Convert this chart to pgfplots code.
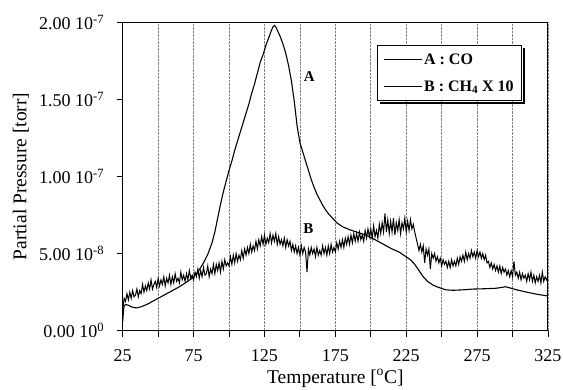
\documentclass[border=0pt]{standalone}
\usepackage{fontspec}
\setmainfont{Liberation Serif}
\usepackage{pgfplots}
\pgfplotsset{compat=1.18}

\pgfplotstableread{
x y
25 0.6
25.5 1.2
26 1.6
27 1.7
29 1.65
31 1.55
33 1.5
35 1.48
38 1.55
42 1.7
46 1.9
50 2.1
55 2.35
60 2.6
65 2.85
70 3.15
74 3.4
78 3.8
82 4.4
85 4.95
88 5.7
90 6.4
92 7.3
94 8.2
96 9.0
98 9.7
100 10.4
102 11.0
104 11.7
106 12.3
108 12.9
110 13.5
112 14.1
114 14.7
116 15.4
118 16.0
120 16.7
122 17.4
124 17.9
126 18.5
128 19.0
130 19.5
131 19.7
132 19.8
133 19.7
134 19.5
136 19.1
138 18.6
140 18.0
142 17.2
144 16.2
146 14.9
148 13.3
150 12.2
152 11.6
154 11.0
156 10.4
158 9.8
160 9.3
162 8.85
164 8.5
166 8.15
168 7.85
170 7.6
173 7.3
176 7.0
180 6.75
185 6.55
190 6.4
195 6.25
200 6.05
205 5.8
210 5.55
215 5.3
220 5.1
224 4.85
228 4.6
231 4.3
234 3.9
237 3.5
240 3.2
244 2.95
248 2.8
253 2.65
258 2.62
265 2.65
272 2.7
280 2.72
288 2.75
292 2.8
295 2.85
298 2.78
303 2.65
310 2.5
318 2.35
325 2.25
}\coA

\pgfplotstableread{
x y
25 1.3
26 2.1
27 1.9
28 2.4
29 2.0
30 2.5
31 2.1
32 2.6
33 2.2
34 2.3
35 2.7
36 2.2
37 2.6
38 2.4
39 3.0
40 2.5
41 2.9
42 2.6
43 3.1
44 2.7
45 3.3
46 2.7
47 3.0
48 3.2
49 2.8
50 3.4
51 2.9
52 3.3
53 3.0
54 3.5
55 2.9
56 3.4
57 3.1
58 3.6
59 3.0
60 3.5
61 3.1
62 3.7
63 3.2
64 3.4
65 3.1
66 3.8
67 3.3
68 3.6
69 3.2
70 3.7
71 3.3
72 3.9
73 3.4
74 3.6
75 3.3
76 3.8
77 3.5
78 4.0
79 3.4
80 3.9
81 3.5
82 4.1
83 3.6
84 3.7
85 4.2
86 3.5
87 4.0
88 3.7
89 4.3
90 3.7
91 4.3
92 3.9
93 4.4
94 3.8
95 4.5
96 4.0
97 4.6
98 4.2
99 4.4
100 4.2
101 4.8
102 4.3
103 4.9
104 4.4
105 5.0
106 4.5
107 4.9
108 4.6
109 5.2
110 4.7
111 5.3
112 4.9
113 5.4
114 5.0
115 5.6
116 5.1
117 5.5
118 5.2
119 5.8
120 5.3
121 5.9
122 5.5
123 6.1
124 5.6
125 6.2
126 5.6
127 6.0
128 5.7
129 6.3
130 5.7
131 6.2
132 5.8
133 6.3
134 5.6
135 6.1
136 5.6
137 5.9
138 5.5
139 6.0
140 5.4
141 5.9
142 5.5
143 5.8
144 5.2
145 5.6
146 5.1
147 5.5
148 5.0
149 5.4
150 4.9
151 5.5
152 5.0
153 5.4
154 5.1
155 3.8
156 5.3
157 4.9
158 5.4
159 5.0
160 5.3
161 4.8
162 5.4
163 4.9
164 5.2
165 4.9
166 5.5
167 5.0
168 5.4
169 4.9
170 5.5
171 5.0
172 5.6
173 5.1
174 5.4
175 5.1
176 5.7
177 5.3
178 5.8
179 5.4
180 5.9
181 5.4
182 6.0
183 5.6
184 6.1
185 5.6
186 6.2
187 5.7
188 6.3
189 5.8
190 6.3
191 5.8
192 6.4
193 5.9
194 6.2
195 5.8
196 6.5
197 6.0
198 6.6
199 6.1
200 6.6
201 6.0
202 6.8
203 6.1
204 6.5
205 6.0
206 6.9
207 6.3
208 7.0
209 6.4
210 7.6
211 6.4
212 7.2
213 6.3
214 7.1
215 6.4
216 7.3
217 6.2
218 7.0
219 6.5
220 7.2
221 6.3
222 7.0
223 6.6
224 7.3
225 6.4
226 7.1
227 6.5
228 7.2
229 6.6
230 6.9
231 6.4
232 6.0
233 5.6
234 5.2
235 5.6
236 5.1
237 5.5
238 4.4
239 5.3
240 4.9
241 5.3
242 4.0
243 5.0
244 4.7
245 5.0
246 4.5
247 4.8
248 4.4
249 4.7
250 4.2
251 4.6
252 4.3
253 4.5
254 4.1
255 4.5
256 4.1
257 4.6
258 4.2
259 4.5
260 4.2
261 4.7
262 4.3
263 4.8
264 4.5
265 4.9
266 4.5
267 5.1
268 4.6
269 5.0
270 4.7
271 5.2
272 4.8
273 5.1
274 4.7
275 5.2
276 4.8
277 5.1
278 4.7
279 5.0
280 4.6
281 4.9
282 4.4
283 4.5
284 4.1
285 4.4
286 4.0
287 4.3
288 3.9
289 4.2
290 3.8
291 4.2
292 3.7
293 4.1
294 3.8
295 4.0
296 3.6
297 3.9
298 3.5
299 3.9
300 3.5
301 4.5
302 3.6
303 3.8
304 3.4
305 3.8
306 3.3
307 3.7
308 3.4
309 3.6
310 3.2
311 3.7
312 3.3
313 3.8
314 3.2
315 3.6
316 3.1
317 3.5
318 3.2
319 3.6
320 3.1
321 3.8
322 3.2
323 3.5
324 3.3
325 3.5
}\chB

\begin{document}
\begin{tikzpicture}
\begin{axis}[
  scale only axis,
  width=425.3pt, height=308.4pt,
  xmin=25, xmax=325, ymin=0, ymax=20,
  xtick={25,75,...,325},
  minor xtick={50,100,...,300},
  ytick={0,5,10,15,20},
  yticklabels={0.00 10\textsuperscript{0},5.00 10\textsuperscript{-8},1.00 10\textsuperscript{-7},1.50 10\textsuperscript{-7},2.00 10\textsuperscript{-7}},
  tick align=outside,
  major tick length=6pt, minor tick length=6pt,
  xtick pos=left, ytick pos=left,
  xmajorgrids, xminorgrids,
  major grid style={densely dotted, gray, line width=0.6pt},
  minor grid style={densely dotted, gray, line width=0.6pt},
  axis line style={line width=1pt},
  tick style={black, line width=0.9pt},
  /pgf/number format/assume math mode=true,
  ticklabel style={font=\fontsize{18}{20}\selectfont},
  xticklabel style={yshift=-9pt},
  yticklabel style={xshift=-9pt},
  xlabel={Temperature [\textsuperscript{o}C]},
  ylabel={Partial Pressure [torr]},
  label style={font=\fontsize{19.5}{22}\selectfont},
  xlabel style={at={(axis description cs:0.5,-0.155)}, anchor=center},
  ylabel style={at={(axis description cs:-0.2395,0.5)}, anchor=center},
  legend style={name=leg, at={(axis description cs:0.597,0.926)}, anchor=north west,
    draw=black, line width=1pt, fill=white,
    font=\bfseries\fontsize{16}{18}\selectfont,
    row sep=11pt, inner xsep=6pt, inner ysep=6pt},
  legend cell align=left,
  legend image code/.code={\draw[#1, line width=1pt] (0pt,0pt) -- (38pt,0pt);},
]
\addplot[black, line width=1.1pt] table {\coA};
\addlegendentry{A : CO}
\addplot[black, line width=1pt] table {\chB};
\addlegendentry{B : CH\textsubscript{4} X 10}
\node[font=\bfseries\fontsize{15}{17}\selectfont] at (axis cs:156.6,16.5) {A};
\node[font=\bfseries\fontsize{15}{17}\selectfont] at (axis cs:155.9,6.6) {B};
\coordinate (o) at (rel axis cs:0,0);
\end{axis}
\draw[line width=2.2pt] ([xshift=1.6pt,yshift=-3pt]leg.north east) -- ([xshift=1.6pt,yshift=-1.6pt]leg.south east) -- ([xshift=3pt,yshift=-1.6pt]leg.south west);
\pgfresetboundingbox
\path[use as bounding box] (o) ++(-122.7pt,-58.3pt) rectangle ++(563pt,389pt);
\end{tikzpicture}
\end{document}
